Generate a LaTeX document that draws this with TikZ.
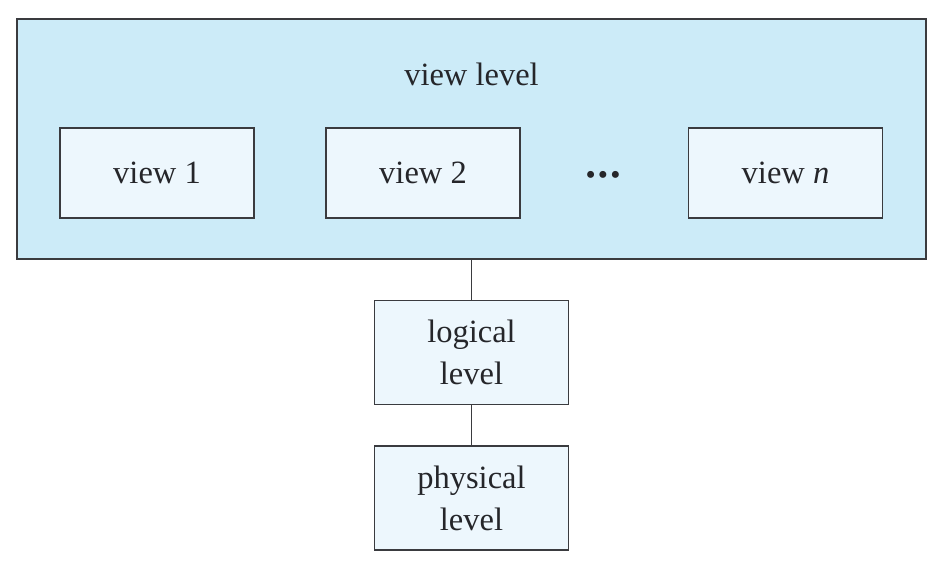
\documentclass[tikz,border=0pt]{standalone}
\usepackage{fontspec}
\setmainfont{Liberation Serif}
\begin{document}
\begin{tikzpicture}[x=1pt,y=-1pt,
  outerbox/.style={draw=edge,fill=outerfill,line width=1.9pt},
  innerbox/.style={draw=edge,fill=innerfill,line width=1.9pt,minimum width=194pt,inner sep=0pt,align=center,text=txt,font=\fontsize{32.5}{42}\selectfont},
  conn/.style={draw=edge,line width=1.9pt},
  lbl/.style={font=\fontsize{32.5}{42}\selectfont,inner sep=0pt,text=txt}]
\definecolor{outerfill}{HTML}{CCEBF8}
\definecolor{innerfill}{HTML}{EDF7FD}
\definecolor{edge}{HTML}{3A3B3F}
\definecolor{txt}{HTML}{25262A}
\useasboundingbox (0,0) rectangle (944,586);
\node[outerbox,minimum width=909pt,minimum height=240pt,inner sep=0pt] (outer) at (471.5,139) {};
\node[lbl] (vl) at (471.5,74) {view level};
\node[innerbox,minimum height=90pt] (v1) at (157,173) {view 1};
\node[innerbox,minimum height=90pt] (v2) at (423,173) {view 2};
\node[lbl,font=\fontsize{29}{35}\selectfont] (dots) at (603,178) {\char"2022\hspace{2.2pt}\char"2022\hspace{2.2pt}\char"2022};
\node[innerbox,minimum height=90pt] (vn) at (785.5,173) {view \textit{n}};
\node[innerbox,minimum height=104pt] (log) at (471.5,352.5) {logical\\level};
\node[innerbox,minimum height=104pt] (phy) at (471.5,498) {physical\\level};
\draw[conn] (outer.south -| log.north) -- (log.north);
\draw[conn] (log.south) -- (phy.north);
\end{tikzpicture}
\end{document}
